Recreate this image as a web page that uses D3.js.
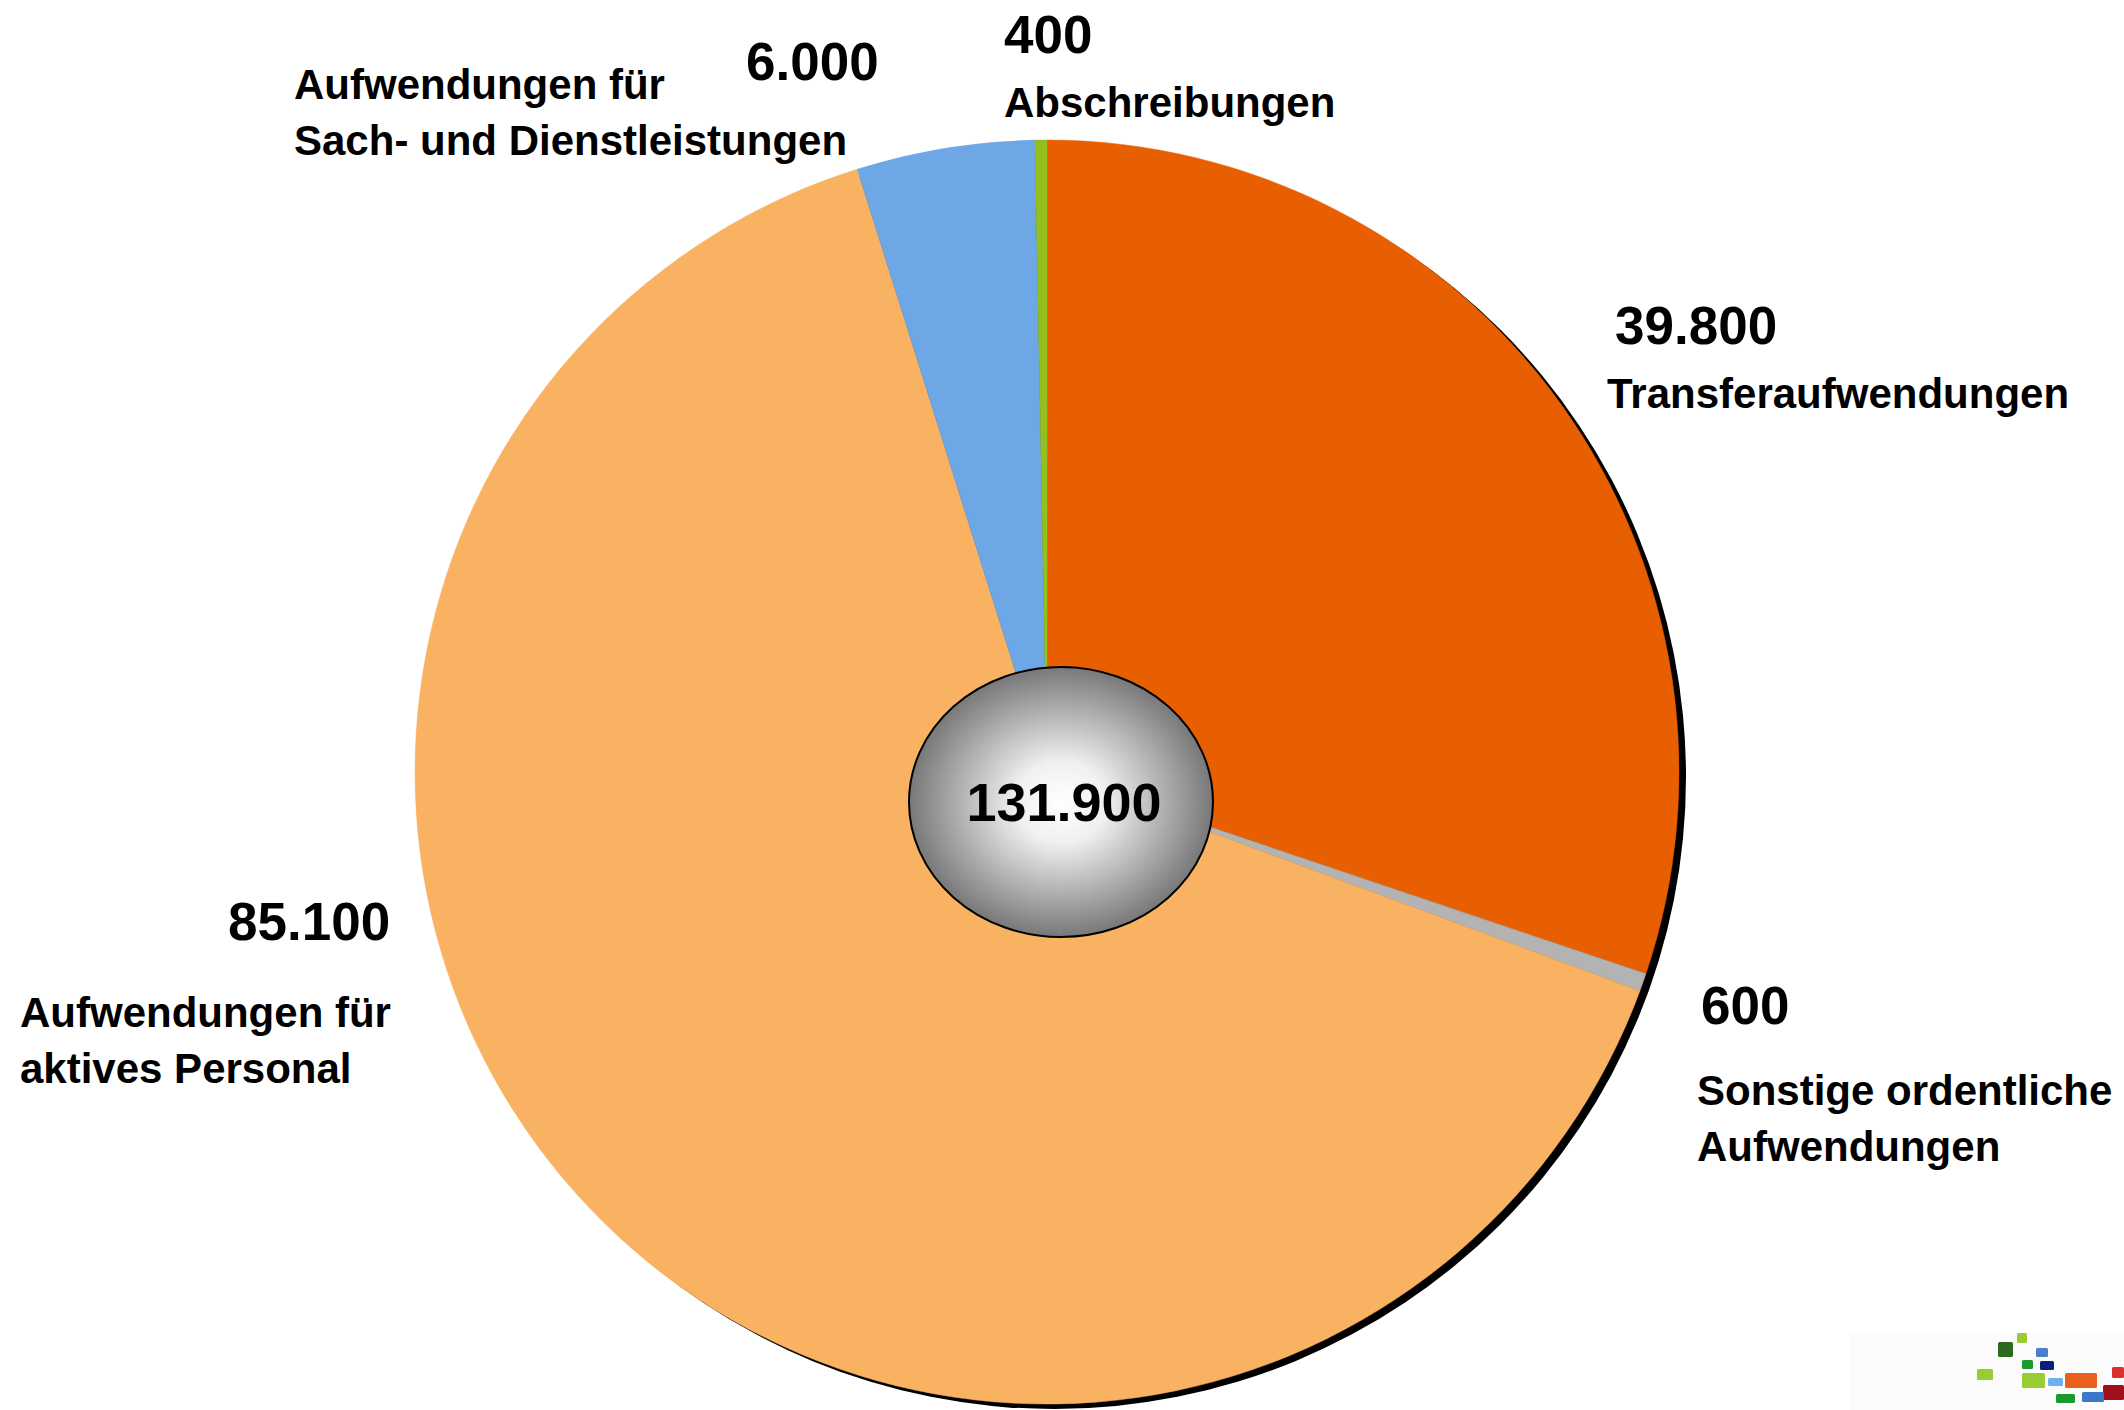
<!DOCTYPE html>
<html>
<head>
<meta charset="utf-8">
<script src="https://cdn.jsdelivr.net/npm/d3@7"></script>
<style>
  body { margin: 0; background: #fff; }
  text { font-family: "Liberation Sans", Arial, sans-serif; font-weight: bold; fill: #000; }
</style>
</head>
<body>
<script>
// Daten (Reihenfolge im Uhrzeigersinn ab 12 Uhr)
var categories = ["Transferaufwendungen", "Sonstige ordentliche Aufwendungen",
                  "Aufwendungen für aktives Personal", "Aufwendungen für Sach- und Dienstleistungen",
                  "Abschreibungen"];
var values = [39800, 600, 85100, 6000, 400];
var valueLabels = ["39.800", "600", "85.100", "6.000", "400"];
var labelLines = [["Transferaufwendungen"], ["Sonstige ordentliche", "Aufwendungen"],
                  ["Aufwendungen für", "aktives Personal"], ["Aufwendungen für", "Sach- und Dienstleistungen"],
                  ["Abschreibungen"]];
var totalLabel = "131.900";

var colors = ["#e85f02", "#b3b3b3", "#f8b262", "#6ea7e6", "#93c01f"];

// Position der Beschriftungen (Wert: x, Grundlinie; Text: x, erste Grundlinie)
var labelPos = [
  {vx: 1615, vy: 344, tx: 1607, ty: 408},
  {vx: 1701, vy: 1024, tx: 1697, ty: 1105},
  {vx: 228, vy: 940, tx: 20, ty: 1027},
  {vx: 746, vy: 80, tx: 294, ty: 99},
  {vx: 1004, vy: 53, tx: 1004, ty: 117}
];

var width = 2124, height = 1410;
var cx = 1047, cy = 772, radius = 632;

var svg = d3.select("body").append("svg")
    .attr("width", width)
    .attr("height", height);

// Verlauf für die Mitte
var grad = svg.append("defs").append("radialGradient")
    .attr("id", "mitte")
    .attr("cx", "50%").attr("cy", "50%").attr("r", "50%");
grad.append("stop").attr("offset", "0%").attr("stop-color", "#ffffff");
grad.append("stop").attr("offset", "30%").attr("stop-color", "#f0f0f0");
grad.append("stop").attr("offset", "100%").attr("stop-color", "#787878");

var pie = d3.pie().sort(null).startAngle(0).endAngle(2 * Math.PI);
var arc = d3.arc().innerRadius(0).outerRadius(radius);

var g = svg.append("g").attr("transform", "translate(" + cx + "," + cy + ")");

// schwarzer Rand rechts/unten
g.append("circle")
    .attr("cx", 7).attr("cy", 5)
    .attr("r", radius)
    .attr("fill", "#000");

g.selectAll("path.slice")
    .data(pie(values))
    .enter().append("path")
    .attr("class", "slice")
    .attr("d", arc)
    .attr("fill", function(d, i) { return colors[i]; })
    .attr("stroke", function(d, i) { return colors[i]; })
    .attr("stroke-width", 0.5);

// Mitte mit Gesamtsumme
svg.append("ellipse")
    .attr("cx", 1061).attr("cy", 802)
    .attr("rx", 152).attr("ry", 135)
    .attr("fill", "url(#mitte)")
    .attr("stroke", "#000")
    .attr("stroke-width", 2);

svg.append("text")
    .attr("x", 1064).attr("y", 821)
    .attr("text-anchor", "middle")
    .style("font-size", "54px")
    .text(totalLabel);

// Beschriftungen
categories.forEach(function(c, i) {
  var p = labelPos[i];
  svg.append("text")
      .attr("x", p.vx).attr("y", p.vy)
      .style("font-size", "53px")
      .text(valueLabels[i]);
  labelLines[i].forEach(function(line, j) {
    svg.append("text")
        .attr("x", p.tx).attr("y", p.ty + j * 56)
        .style("font-size", "42px")
        .text(line);
  });
});

// Logo unten rechts
var logoTiles = [
  [2017, 1333, 10, 10, "#99cc33"], [1998, 1342, 15, 15, "#2d6a1f"], [2036, 1348, 12, 9, "#4a7fcc"],
  [2022, 1360, 11, 9, "#1a9a2a"], [2040, 1361, 14, 9, "#0b1f7a"], [1977, 1369, 16, 11, "#99cc33"],
  [2022, 1373, 23, 15, "#99cc33"], [2048, 1378, 15, 8, "#6fb0ee"], [2065, 1373, 32, 15, "#e8601c"],
  [2112, 1367, 12, 11, "#d9302a"], [2103, 1385, 21, 15, "#a0101a"], [2056, 1394, 19, 9, "#1a9a2a"],
  [2082, 1392, 22, 10, "#3c78c8"]
];
svg.append("rect")
    .attr("x", 1850).attr("y", 1333).attr("width", 274).attr("height", 77)
    .attr("fill", "#fbfbfb");
svg.selectAll("rect.tile")
    .data(logoTiles)
    .enter().append("rect")
    .attr("class", "tile")
    .attr("x", function(d) { return d[0]; })
    .attr("y", function(d) { return d[1]; })
    .attr("width", function(d) { return d[2]; })
    .attr("height", function(d) { return d[3]; })
    .attr("rx", 1.5)
    .attr("fill", function(d) { return d[4]; });
</script>
</body>
</html>
